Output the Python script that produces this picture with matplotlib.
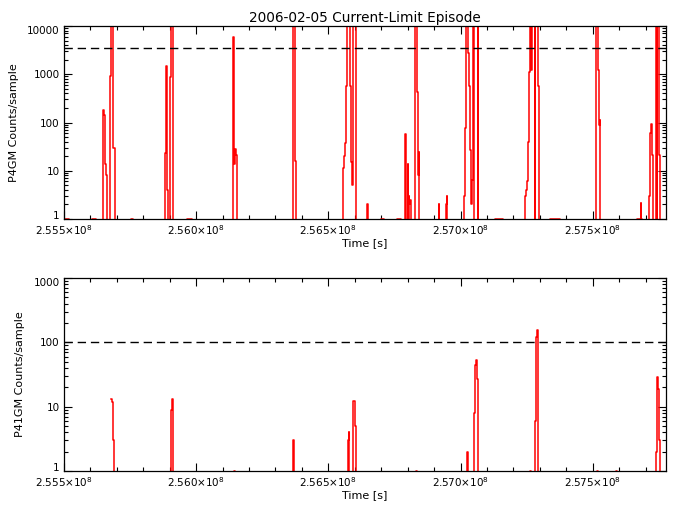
import matplotlib
matplotlib.use("Agg")
import matplotlib.pyplot as plt
import matplotlib.transforms as mtransforms
from matplotlib.ticker import FixedLocator, LogLocator, NullFormatter, FuncFormatter, MultipleLocator

# P4GM, steps: time [s] where the rate changes, counts/sample after that time
t_p4 = [255.5038e6, 255.5189e6, 255.6061e6, 255.6212e6,
        255.6477e6, 255.6515e6, 255.6553e6, 255.6591e6, 255.6629e6,
        255.6735e6, 255.6742e6, 255.6780e6, 255.6856e6, 255.6913e6,
        255.7538e6, 255.7614e6,
        255.8807e6, 255.8845e6, 255.8875e6, 255.8902e6, 255.8913e6, 255.8951e6,
        255.9027e6, 255.9065e6, 255.9140e6,
        255.9659e6, 255.9849e6,
        256.1390e6, 256.1428e6, 256.1447e6, 256.1466e6, 256.1515e6, 256.1538e6,
        256.3648e6, 256.3724e6, 256.3769e6,
        256.5542e6, 256.5580e6, 256.5618e6, 256.5656e6, 256.5671e6, 256.5694e6,
        256.5822e6, 256.5845e6, 256.5883e6, 256.5932e6, 256.6050e6,
        256.6478e6, 256.6501e6,
        256.7008e6, 256.7122e6, 256.7614e6, 256.7766e6,
        256.7917e6, 256.7940e6, 256.8004e6, 256.8023e6, 256.8042e6, 256.8069e6,
        256.8106e6, 256.8133e6,
        256.8285e6, 256.8354e6, 256.8384e6, 256.8411e6, 256.8447e6,
        256.9167e6, 256.9186e6, 256.9444e6, 256.9482e6, 256.9501e6,
        257.0126e6, 257.0164e6, 257.0191e6, 257.0217e6, 257.0293e6, 257.0331e6,
        257.0369e6, 257.0407e6, 257.0445e6, 257.0483e6, 257.0506e6, 257.0525e6,
        257.0644e6, 257.0663e6,
        257.1288e6, 257.1591e6,
        257.2425e6, 257.2463e6, 257.2501e6, 257.2538e6, 257.2576e6, 257.2603e6,
        257.2622e6, 257.2671e6, 257.2690e6, 257.2804e6, 257.2826e6, 257.2929e6,
        257.2967e6,
        257.3372e6, 257.3751e6,
        257.5126e6, 257.5142e6, 257.5217e6, 257.5240e6, 257.5259e6, 257.5286e6,
        257.6667e6, 257.6819e6, 257.6838e6, 257.6857e6,
        257.7133e6, 257.7171e6, 257.7197e6, 257.7224e6, 257.7254e6, 257.7285e6,
        257.7379e6, 257.7425e6, 257.7436e6, 257.7512e6, 257.7557e6]
c_p4 = [1, 0, 1, 0,
        178, 145, 14, 8, 0,
        2.9, 940, 20000, 30, 0,
        1, 0,
        23, 1000, 1500, 520, 4, 0,
        880, 20000, 0,
        1, 0,
        5800, 4100, 14, 28, 21, 0,
        20000, 16, 0,
        11.5, 20, 38, 90, 580, 20000,
        580, 15, 5, 20000, 0,
        2, 0,
        1, 0, 1, 0,
        58, 0, 14, 0, 3, 2,
        2.5, 0,
        20000, 435, 8, 25, 0,
        2, 0, 2, 3, 0,
        3, 78, 980, 20000, 2700, 580,
        27, 2, 6.5, 20000, 7, 0,
        20000, 0,
        1, 0,
        3, 4, 6, 40, 150, 1100,
        20000, 1240, 20000, 0, 20000, 580,
        0,
        1, 0,
        2, 20000, 1240, 90, 115, 0,
        1, 2.1, 1, 0,
        3, 60, 94, 31, 21, 0,
        20000, 0, 20000, 21, 0]

# P41GM
t_p41 = [255.6780e6, 255.6830e6, 255.6867e6, 255.6894e6,
         255.9053e6, 255.9091e6, 255.9118e6, 255.9140e6,
         256.1440e6, 256.1477e6,
         256.3675e6, 256.3697e6,
         256.5732e6, 256.5769e6, 256.5796e6,
         256.5921e6, 256.5947e6, 256.6012e6, 256.6050e6,
         256.8322e6, 256.8371e6,
         257.0247e6, 257.0277e6,
         257.0504e6, 257.0542e6, 257.0580e6, 257.0618e6, 257.0644e6,
         257.2614e6, 257.2652e6,
         257.2804e6, 257.2849e6, 257.2879e6, 257.2917e6, 257.2948e6,
         257.5152e6, 257.5209e6,
         257.5898e6, 257.5936e6,
         257.7387e6, 257.7425e6, 257.7463e6, 257.7501e6, 257.7531e6]
c_p41 = [13, 12, 3, 0,
         9, 13.3, 2, 0,
         1, 0,
         3, 0,
         3, 4, 0,
         5, 12.3, 5, 0,
         1, 0,
         2, 0,
         8, 45, 53, 27, 0,
         1, 0,
         6, 120, 155, 23, 0,
         1, 0,
         1, 0,
         2, 29, 19, 3, 0]

limit_p4 = 3500
limit_p41 = 100

yticks_p4 = [1, 10, 100, 1000, 10000]
yticks_p41 = [1, 10, 100, 1000]
xticks = [2.555e8, 2.560e8, 2.565e8, 2.570e8, 2.575e8]
xtick_labels = ['2.555×10$^{8}$', '2.560×10$^{8}$', '2.565×10$^{8}$',
                '2.570×10$^{8}$', '2.575×10$^{8}$']

plt.rcParams['font.family'] = ['DejaVu Sans']
plt.rcParams['mathtext.default'] = 'regular'

fig = plt.figure(figsize=(6.77, 5.11), dpi=100)
ax1 = fig.add_axes([0.0945, 0.5714, 0.8892, 0.3777])
ax2 = fig.add_axes([0.0945, 0.0783, 0.8892, 0.3777])

def style(ax, t, c, limit, yticks, ylabel):
    ax.set_yscale('log')
    ax.step(t, c, where='post', color='red', lw=1.1)
    ax.axhline(limit, color='black', lw=1.0, linestyle=(0, (6, 3.5)))
    ax.set_xlim(2.555e8, 2.57777e8)
    ax.set_ylim(yticks[0], yticks[-1])
    ax.xaxis.set_major_locator(FixedLocator(xticks))
    ax.set_xticklabels(xtick_labels)
    ax.xaxis.set_minor_locator(MultipleLocator(1e5))
    ax.yaxis.set_major_locator(FixedLocator(yticks))
    ax.yaxis.set_minor_locator(LogLocator(base=10, subs=range(2, 10)))
    ax.yaxis.set_major_formatter(FuncFormatter(lambda v, p: '%d' % round(v)))
    ax.yaxis.set_minor_formatter(NullFormatter())
    ax.tick_params(which='both', direction='in', top=True, right=True,
                   labelsize=7.5, width=0.8, pad=3)
    ax.tick_params(which='major', length=6)
    ax.tick_params(which='minor', length=3)
    for s in ax.spines.values():
        s.set_linewidth(0.9)
    ax.set_xlabel('Time [s]', fontsize=8, labelpad=1)
    ax.set_ylabel(ylabel, fontsize=8, labelpad=6)
    # IDL nudges the end labels inside the axis range
    labels = ax.get_yticklabels()
    labels[0].set_transform(labels[0].get_transform() +
                            mtransforms.ScaledTranslation(0, 3 / 72, fig.dpi_scale_trans))
    labels[-1].set_transform(labels[-1].get_transform() +
                             mtransforms.ScaledTranslation(0, -3 / 72, fig.dpi_scale_trans))

style(ax1, t_p4, c_p4, limit_p4, yticks_p4, 'P4GM Counts/sample')
style(ax2, t_p41, c_p41, limit_p41, yticks_p41, 'P41GM Counts/sample')
ax1.set_title('2006-02-05 Current-Limit Episode', fontsize=9.8, pad=3)

fig.savefig('out.png', dpi=100)
